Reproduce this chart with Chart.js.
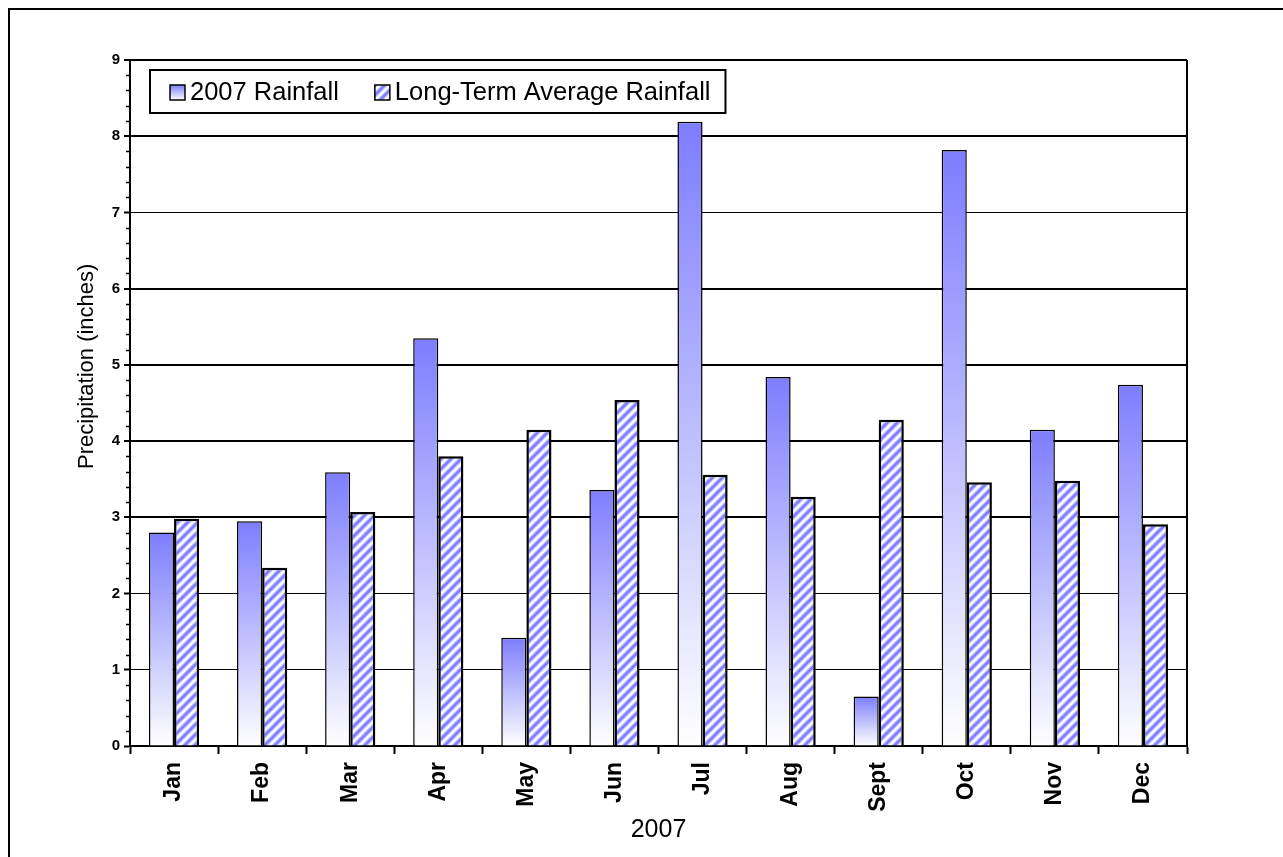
<!DOCTYPE html>
<html>
<head>
<meta charset="utf-8">
<script src="https://cdn.jsdelivr.net/npm/chart.js@4"></script>
<style>
  html, body { margin: 0; padding: 0; background: #fff; overflow: hidden; }
  #wrap { position: absolute; left: 0; top: 0; width: 1283px; height: 857px; }
</style>
</head>
<body>
<div id="wrap"><canvas id="rainChart" width="1283" height="857"></canvas></div>
<script>
// monthly values (inches)
const months = ['Jan', 'Feb', 'Mar', 'Apr', 'May', 'Jun', 'Jul', 'Aug', 'Sept', 'Oct', 'Nov', 'Dec'];
const rain2007 = [2.80, 2.95, 3.59, 5.35, 1.42, 3.36, 8.19, 4.84, 0.65, 7.82, 4.15, 4.74];
const rainAverage = [2.98, 2.34, 3.07, 3.80, 4.15, 4.54, 3.56, 3.27, 4.28, 3.46, 3.48, 2.91];
const yMin = 0;
const yMax = 9;
const yStep = 1;

const FONT = "'Liberation Sans', Arial, Helvetica, sans-serif";
Chart.defaults.font.family = FONT;
Chart.defaults.color = '#000';

// diagonal hatch for the long-term average bars
function makeHatch() {
    const c = document.createElement('canvas');
    c.width = 10; c.height = 10;
    const g = c.getContext('2d');
    g.fillStyle = '#fbfbff';
    g.fillRect(0, 0, 10, 10);
    g.strokeStyle = 'rgba(125,125,255,0.45)';
    g.lineWidth = 4.6;
    const stripes = () => {
        g.beginPath();
        g.moveTo(-2, 12); g.lineTo(12, -2);
        g.moveTo(-2, 2); g.lineTo(2, -2);
        g.moveTo(8, 12); g.lineTo(12, 8);
        g.stroke();
    };
    stripes();
    g.strokeStyle = '#7e7eff';
    g.lineWidth = 2.6;
    stripes();
    return g.createPattern(c, 'repeat');
}
const hatch = makeHatch();

// each 2007 bar fades from blue at the top to white at the base
function barGradient(context) {
    const chart = context.chart;
    if (!chart.chartArea || context.type !== 'data') return '#a8a8ff';
    const y = chart.scales.y;
    const top = y.getPixelForValue(context.parsed.y);
    const base = y.getPixelForValue(0);
    const g = chart.ctx.createLinearGradient(0, top, 0, base);
    g.addColorStop(0, '#7d7dff');
    g.addColorStop(1, '#ffffff');
    return g;
}

// outer frame, plot border, minor ticks
const framePlugin = {
    id: 'frame',
    beforeDraw(chart) {
        const ctx = chart.ctx;
        ctx.save();
        ctx.fillStyle = '#fff';
        ctx.fillRect(0, 0, chart.width, chart.height);
        ctx.strokeStyle = '#000';
        ctx.lineWidth = 2;
        ctx.beginPath();
        ctx.moveTo(9, chart.height + 5);
        ctx.lineTo(9, 9);
        ctx.lineTo(chart.width + 5, 9);
        ctx.stroke();
        ctx.restore();
    },
    afterDraw(chart) {
        const ctx = chart.ctx;
        const a = chart.chartArea;
        const y = chart.scales.y;
        ctx.save();
        ctx.strokeStyle = '#000';
        ctx.lineWidth = 2;
        ctx.beginPath();
        ctx.moveTo(a.right, a.top);
        ctx.lineTo(a.right, a.bottom);
        ctx.stroke();
        ctx.lineWidth = 1.5;
        ctx.beginPath();
        for (let i = 1; i < (yMax - yMin) * 5; i++) {
            if (i % 5 === 0) continue;
            const py = Math.round(y.getPixelForValue(yMin + i / 5)) + 0.5;
            ctx.moveTo(a.left - 4, py);
            ctx.lineTo(a.left, py);
        }
        ctx.stroke();
        ctx.restore();
    }
};

// boxed legend inside the plot
const boxLegend = {
    id: 'boxLegend',
    afterDraw(chart) {
        const ctx = chart.ctx;
        const sets = chart.data.datasets;
        const left = 150, top = 70, h = 43;
        const sw = 15, gapSw = 5, gapItem = 36;
        ctx.save();
        ctx.font = '25.5px ' + FONT;
        const w0 = ctx.measureText(sets[0].label).width;
        const w1 = ctx.measureText(sets[1].label).width;
        const x0 = 170;
        const x1 = x0 + sw + gapSw + w0 + gapItem;
        const right = x1 + sw + gapSw + w1 + 15;
        ctx.fillStyle = '#fff';
        ctx.fillRect(left, top, right - left, h);
        ctx.strokeStyle = '#000';
        ctx.lineWidth = 2;
        ctx.strokeRect(left, top, right - left, h);

        const cy = top + h / 2 + 1;
        const sy = cy - 7.5;
        const g = ctx.createLinearGradient(0, sy, 0, sy + sw);
        g.addColorStop(0, '#7d7dff');
        g.addColorStop(1, '#ffffff');
        [[x0, g], [x1, hatch]].forEach(([x, fill]) => {
            ctx.fillStyle = fill;
            ctx.fillRect(x, sy, sw, sw);
            ctx.lineWidth = 1.5;
            ctx.strokeRect(x, sy, sw, sw);
        });
        ctx.fillStyle = '#000';
        ctx.textBaseline = 'middle';
        ctx.fillText(sets[0].label, x0 + sw + gapSw, cy);
        ctx.fillText(sets[1].label, x1 + sw + gapSw, cy);
        ctx.restore();
    }
};

new Chart(document.getElementById('rainChart'), {
    type: 'bar',
    data: {
        labels: months,
        datasets: [
            {
                label: '2007 Rainfall',
                data: rain2007,
                backgroundColor: barGradient,
                borderColor: '#000',
                borderWidth: 1.5,
                categoryPercentage: 0.57,
                barPercentage: 1.0
            },
            {
                label: 'Long-Term Average Rainfall',
                data: rainAverage,
                backgroundColor: hatch,
                borderColor: '#000',
                borderWidth: 2.5,
                categoryPercentage: 0.57,
                barPercentage: 1.0
            }
        ]
    },
    options: {
        responsive: false,
        animation: false,
        layout: { padding: { left: 0, top: 60, right: 96, bottom: 0 } },
        plugins: {
            legend: { display: false },
            tooltip: { enabled: false }
        },
        scales: {
            x: {
                afterFit: s => { s.height = 111; },
                grid: {
                    offset: true,
                    drawOnChartArea: false,
                    drawTicks: true,
                    tickLength: 8,
                    tickColor: '#000',
                    tickWidth: 2
                },
                border: { color: '#000', width: 2 },
                ticks: {
                    autoSkip: false,
                    minRotation: 90,
                    maxRotation: 90,
                    padding: 8,
                    font: { size: 23, weight: 'bold' }
                },
                title: {
                    display: true,
                    text: '2007',
                    font: { size: 25 },
                    padding: { top: 0, bottom: 12 }
                }
            },
            y: {
                min: yMin,
                max: yMax,
                afterFit: s => { s.width = 130; },
                grid: {
                    color: '#000',
                    lineWidth: c => ([3, 4, 5, 6, 8, 9].includes(c.tick && c.tick.value) ? 2 : 1),
                    tickLength: 6,
                    tickColor: '#000',
                    tickWidth: 2
                },
                border: { color: '#000', width: 2 },
                ticks: {
                    stepSize: yStep,
                    padding: 4,
                    font: { size: 15, weight: 'bold' }
                },
                title: {
                    display: true,
                    // leading spaces lift the title as in the original layout
                    text: '            Precipitation (inches)',
                    font: { size: 22 },
                    padding: { top: 74, bottom: 0 }
                }
            }
        }
    },
    plugins: [framePlugin, boxLegend]
});
</script>
</body>
</html>
